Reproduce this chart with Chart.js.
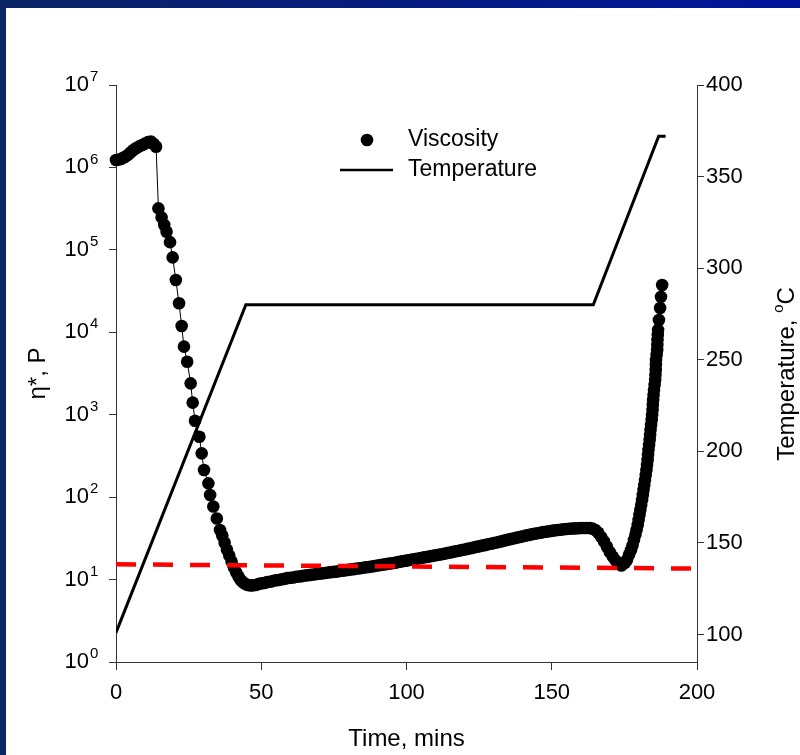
<!DOCTYPE html>
<html><head><meta charset="utf-8">
<script src="https://cdn.jsdelivr.net/npm/chart.js@4.4.1/dist/chart.umd.min.js"></script>
<style>
html,body{margin:0;padding:0;}
body{width:800px;height:755px;overflow:hidden;position:relative;background:linear-gradient(to right,#0b2566,#00139a);}
#white{position:absolute;left:6px;top:8px;right:0;bottom:0;background:#ffffff;}
#c{position:absolute;left:0;top:0;}
</style></head><body>
<div id="white"></div>
<canvas id="c" width="800" height="755"></canvas>
<script>
// ---- data ----
const timeMin = [
  0,1,2,3,4,5,6,7,8,9,10,11,12,13,13.8,
  14.6,15.7,16.6,17.4,18.6,19.5,20.6,21.7,22.6,23.4,24.5,25.7,26.4,27.2,28.7,29.5,30.3,31.8,32.4,33.5,34.7,35.8,
  36.6,37.4,38.2,39.0,39.8,40.6,41.4,42.2,43.0,43.8,44.6,45.4,46.2,
  47,48,49,50,51,52,53,54,55,56,
  57,58,59,60,61,62,63,64,65,66,
  67,68,69,70,71,72,73,74,75,76,
  77,78,79,80,81,82,83,84,85,86,
  87,88,89,90,91,92,93,94,95,96,
  97,98,99,100,101,102,103,104,105,106,
  107,108,109,110,111,112,113,114,115,116,
  117,118,119,120,121,122,123,124,125,126,
  127,128,129,130,131,132,133,134,135,136,
  137,138,139,140,141,142,143,144,145,146,
  147,148,149,150,151,152,153,154,155,156,
  157,158,159,160,161,162,163,164,165,166,
  167,168,169,170,171,172,173,174,
  175.2,175.9,176.6,177.3,177.8,178.3,178.8,179.2,179.6,179.9,
  180.2,180.5,180.8,181.1,181.35,181.6,181.85,182.1,182.35,182.6,
  182.8,183.0,183.15,183.3,183.5,183.7,183.85,184.0,184.2,184.4,
  184.55,184.7,184.8,184.9,185.05,185.2,185.4,185.6,185.7,185.8,
  185.85,185.9,186.1,186.3,186.35,186.4,186.5,186.6,186.9,187.3,
  187.6,188.0
];
const viscosityP = [
  1.23e6,1.25e6,1.28e6,1.34e6,1.41e6,1.52e6,1.63e6,1.72e6,1.80e6,1.87e6,1.95e6,2.03e6,2.06e6,1.92e6,1.78e6,
  3.19e5,2.48e5,2.0e5,1.66e5,1.24e5,8.1e4,4.3e4,2.25e4,1.19e4,6.7e3,4.4e3,2.4e3,1.4e3,846,541,340,213,147,106,77,55,40,
  34,28,23,19.5,16.5,14,12.2,10.8,9.8,9.2,8.8,8.6,8.5,
  8.5,8.6,8.8,9.0,9.1,9.3,9.4,9.6,9.8,9.9,
  10.1,10.2,10.4,10.5,10.6,10.8,10.9,11.0,11.2,11.3,
  11.4,11.5,11.7,11.8,11.9,12.0,12.2,12.3,12.4,12.5,
  12.7,12.8,13.0,13.1,13.3,13.4,13.6,13.7,13.9,14.1,
  14.2,14.4,14.6,14.8,15.0,15.2,15.4,15.6,15.8,16.0,
  16.3,16.5,16.8,17.0,17.3,17.5,17.8,18.0,18.3,18.6,
  18.8,19.1,19.4,19.7,20.0,20.3,20.6,21.0,21.3,21.7,
  22.1,22.4,22.8,23.2,23.6,24.0,24.4,24.9,25.3,25.8,
  26.2,26.7,27.2,27.7,28.2,28.8,29.3,29.9,30.5,31.1,
  31.7,32.3,32.9,33.5,34.1,34.7,35.3,35.9,36.5,37.0,
  37.6,38.1,38.6,39.0,39.5,39.9,40.3,40.7,41.0,41.3,
  41.6,41.8,42.0,42.2,42.3,42.3,42.2,41.5,40,37,
  33,29,25,21.5,19,17,15.6,14.8,
  16,17.3,20,22.8,26,30.2,35,39.9,46,52.8,
  61,69.8,81,92.3,106,122,140,161,185,213,
  245,282,325,373,430,493,567,653,750,863,
  990,1140,1310,1510,1730,1990,2290,2640,3030,3490,
  4010,4610,5300,6100,7000,8060,9300,10700,14100,19700,
  26900,37500
];
const tempTime = [0, 44.7, 164.3, 186.8, 189.2];
const tempC = [101, 280, 280, 372, 372];
const refTime = [0, 200];
const refViscosity = [15.3, 13.6];
const xTickValues = [0, 50, 100, 150, 200];
const logTickValues = [1, 10, 100, 1000, 10000, 100000, 1000000, 10000000];
const logTickExponents = ['0', '1', '2', '3', '4', '5', '6', '7'];
const tempTickValues = [100, 150, 200, 250, 300, 350, 400];
const seriesNames = ['Viscosity', 'Temperature'];

// ---- chart ----
const FONT = "'Liberation Sans', Arial, sans-serif";
const AX = '#333333';

const pts = (xs, ys) => xs.map((x, i) => ({x: x, y: ys[i]}));

const overlay = {
  id: 'overlay',
  afterDraw(chart) {
    const ctx = chart.ctx;
    ctx.save();
    // exponents of the log tick labels ("10" is drawn by the axis)
    const ys = chart.scales.y;
    ctx.fillStyle = '#000';
    ctx.font = '15px ' + FONT;
    ctx.textAlign = 'left'; ctx.textBaseline = 'middle';
    logTickValues.forEach((v, i) => {
      ctx.fillText(logTickExponents[i], ys.right - 7 - 20 + 1, ys.getPixelForValue(v) - 8);
    });
    // legend
    ctx.beginPath(); ctx.arc(367, 140, 6.3, 0, Math.PI * 2); ctx.fill();
    ctx.strokeStyle = '#000'; ctx.lineWidth = 2.5;
    ctx.beginPath(); ctx.moveTo(340, 170); ctx.lineTo(393, 170); ctx.stroke();
    ctx.font = '23px ' + FONT;
    ctx.textBaseline = 'middle'; ctx.textAlign = 'left';
    ctx.fillText(seriesNames[0], 408, 140);
    ctx.fillText(seriesNames[1], 408, 170);
    // right axis title, reading bottom to top
    ctx.translate(786, 374);
    ctx.rotate(-Math.PI / 2);
    const big = '24px ' + FONT, small = '15px ' + FONT;
    ctx.font = big; const w1 = ctx.measureText('Temperature, ').width; const w3 = ctx.measureText('C').width;
    ctx.font = small; const w2 = ctx.measureText('o').width;
    let x0 = -(w1 + w2 + w3) / 2;
    ctx.textAlign = 'left'; ctx.textBaseline = 'alphabetic';
    ctx.font = big; ctx.fillText('Temperature, ', x0, 8);
    ctx.font = small; ctx.fillText('o', x0 + w1, -3);
    ctx.font = big; ctx.fillText('C', x0 + w1 + w2, 8);
    ctx.restore();
  }
};

new Chart(document.getElementById('c'), {
  type: 'line',
  data: {
    datasets: [
      {
        label: 'Reference',
        data: pts(refTime, refViscosity),
        yAxisID: 'y',
        borderColor: '#ff0000',
        borderWidth: 4.5,
        borderDash: [20, 17],
        pointRadius: 0,
        order: 0
      },
      {
        label: seriesNames[1],
        data: pts(tempTime, tempC),
        yAxisID: 'y2',
        borderColor: '#000000',
        borderWidth: 3,
        pointRadius: 0,
        order: 1
      },
      {
        label: seriesNames[0],
        data: pts(timeMin, viscosityP),
        yAxisID: 'y',
        borderColor: '#000000',
        borderWidth: 1,
        pointRadius: 6.3,
        pointBackgroundColor: '#000000',
        pointBorderWidth: 0,
        clip: false,
        order: 2
      }
    ]
  },
  options: {
    responsive: false,
    devicePixelRatio: 1,
    animation: false,
    layout: {padding: {top: 85, left: 0, right: 0, bottom: 0}},
    plugins: {legend: {display: false}, tooltip: {enabled: false}},
    scales: {
      x: {
        type: 'linear', min: 0, max: 200,
        afterFit(s) { s.height = 93; },
        afterBuildTicks(s) { s.ticks = xTickValues.map(v => ({value: v})); },
        grid: {display: true, drawOnChartArea: false, drawTicks: true, tickLength: 8, color: AX},
        border: {display: true, color: AX, width: 1},
        ticks: {font: {family: FONT, size: 22}, color: '#000', padding: 10, maxRotation: 0},
        title: {display: true, text: 'Time, mins', font: {family: FONT, size: 24}, color: '#000', padding: {top: 0, bottom: 1}}
      },
      y: {
        type: 'logarithmic', position: 'left', min: 1, max: 1e7,
        afterFit(s) { s.width = 116; },
        afterBuildTicks(s) { s.ticks = logTickValues.map(v => ({value: v})); },
        grid: {display: true, drawOnChartArea: false, drawTicks: true, tickLength: 7, color: AX},
        border: {display: true, color: AX, width: 1},
        ticks: {
          font: {family: FONT, size: 22}, color: '#000', padding: 20,
          callback: () => '10'
        },
        title: {display: true, text: '\u03B7*, P', font: {family: FONT, size: 24}, color: '#000', padding: {top: 24, bottom: 0}}
      },
      y2: {
        type: 'linear', position: 'right', min: 85, max: 400,
        afterFit(s) { s.width = 103; },
        afterBuildTicks(s) { s.ticks = tempTickValues.map(v => ({value: v})); },
        grid: {display: true, drawOnChartArea: false, drawTicks: true, tickLength: 7, color: AX},
        border: {display: true, color: AX, width: 1},
        ticks: {font: {family: FONT, size: 22}, color: '#000', padding: 2}
      }
    }
  },
  plugins: [overlay]
});
</script>
</body></html>
